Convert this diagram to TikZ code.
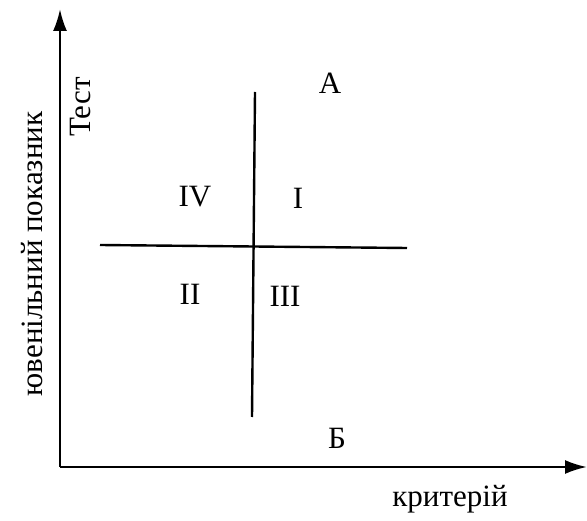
\documentclass[tikz,border=0pt]{standalone}
\usepackage{fontspec}
\setmainfont{Liberation Serif}
\usetikzlibrary{arrows.meta}
\begin{document}
\begin{tikzpicture}
  [x=1pt,y=-1pt,every node/.style={font=\fontsize{31}{34}\selectfont,inner sep=0pt},
   axis/.style={line width=2.4pt,-{Latex[length=22pt,width=14pt]}},
   cross/.style={line width=2.4pt}]
\useasboundingbox (0,0) rectangle (587,521);
  \coordinate (o) at (60,467);
  \coordinate (ytip) at (60,9);
  \coordinate (xtip) at (587,467);
  \coordinate (vtop) at (255,92);
  \coordinate (vbot) at (252,417);
  \coordinate (hl) at (100,245);
  \coordinate (hr) at (407,248);

  \draw[axis] (o) -- (ytip);
  \draw[axis] (o) -- (xtip);
  \foreach \from/\to in {vtop/vbot, hl/hr}
    \draw[cross] (\from) -- (\to);

  \node (qA) at (330,83) {А};
  \node (qB) at (337,438) {Б};
  \node (q1) at (298,198) {I};
  \node (q2) at (190,294) {II};
  \node (q3) at (285,296) {III};
  \node (q4) at (195,197) {IV};

  \node[rotate=90] (test) at (81,107) {Тест};
  \node[rotate=90] (ylab) at (32,254) {ювенільний показник};
  \node (xlab) at (450,499) {критерій};
\end{tikzpicture}
\end{document}
